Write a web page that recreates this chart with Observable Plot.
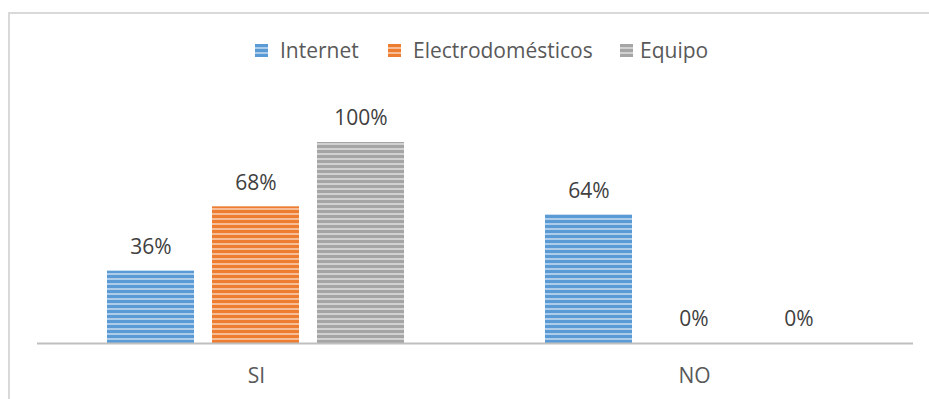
<!DOCTYPE html>
<html>
<head>
<meta charset="utf-8">
<script src="https://cdn.jsdelivr.net/npm/d3@7"></script>
<script src="https://cdn.jsdelivr.net/npm/@observablehq/plot@0.6"></script>
<style>
  html, body { margin: 0; padding: 0; background: #fff; }
  body { width: 929px; height: 399px; position: relative; overflow: hidden; font-family: "Open Sans", sans-serif; }
  #frame { position: absolute; left: 8px; top: 12px; width: 1000px; height: 500px; border-left: 2px solid #d9d9d9; border-top: 2px solid #d9d9d9; box-sizing: border-box; pointer-events: none; }
  #legend { height: 80px; position: relative; }
  .sw { position: absolute; top: 44px; }
  .lt { position: absolute; top: 38px; line-height: 24px; font-size: 21px; color: #595959; white-space: nowrap; }
  #chart { position: relative; }
</style>
</head>
<body>
<div id="frame"></div>
<div id="legend"></div>
<div id="chart"></div>
<script>
const categories = ["SI", "NO"];
const series = ["Internet", "Electrodomésticos", "Equipo"];
const internetValues = [0.36, 0.64];
const electroValues = [0.68, 0.00];
const equipoValues = [1.00, 0.00];
const colors = ["#5b9bd5", "#ed7d31", "#a5a5a5"];
const ids = ["p-internet", "p-electro", "p-equipo"];

const valuesBySeries = [internetValues, electroValues, equipoValues];
const data = [];
series.forEach((s, i) => categories.forEach((c, j) => data.push({category: c, series: s, value: valuesBySeries[i][j]})));

function patternDefs(prefix) {
  const defs = d3.create("svg:defs");
  colors.forEach((col, i) => {
    const p = defs.append("pattern").attr("id", prefix + ids[i]).attr("patternUnits", "userSpaceOnUse")
      .attr("width", 10).attr("height", 5);
    p.append("rect").attr("width", 10).attr("height", 5).attr("fill", col);
    p.append("rect").attr("y", 3.3).attr("width", 10).attr("height", 1.4).attr("fill", "#fff").attr("fill-opacity", 0.7);
  });
  return defs.node();
}

// legend
const legend = document.getElementById("legend");
const swatchX = [255, 388, 620];
const textX = [280, 413, 640];
series.forEach((s, i) => {
  const sw = d3.create("svg").attr("class", "sw").attr("width", 13).attr("height", 13).style("left", swatchX[i] + "px");
  sw.node().appendChild(patternDefs("lg" + i));
  sw.append("rect").attr("width", 13).attr("height", 13).attr("fill", `url(#lg${i}${ids[i]})`);
  legend.appendChild(sw.node());
  const span = document.createElement("div");
  span.className = "lt";
  span.style.left = textX[i] + "px";
  span.textContent = s;
  legend.appendChild(span);
});

const chart = Plot.plot({
  width: 929,
  height: 319,
  marginLeft: 37,
  marginRight: 16,
  marginTop: 62,
  marginBottom: 56,
  style: {fontFamily: "Open Sans, sans-serif", background: "transparent"},
  fx: {domain: categories, paddingInner: 0, paddingOuter: 0, label: null, axis: null},
  x: {domain: series, paddingInner: 0.167, paddingOuter: 0.669, axis: null},
  y: {domain: [0, 1], axis: null},
  color: {domain: series, range: ids.map(id => `url(#${id})`)},
  marks: [
    () => patternDefs(""),
    Plot.barY(data, {fx: "category", x: "series", y: "value", fill: "series"}),
    Plot.text(data, {fx: "category", x: "series", y: "value", text: d => Math.round(d.value * 100) + "%", dy: -24, fontSize: 21, fill: "#404040"}),
    Plot.ruleY([0], {stroke: "#bfbfbf", strokeWidth: 2}),
    Plot.text(categories, {fx: d => d, frameAnchor: "bottom", dy: 39, text: d => d, fontSize: 21, fill: "#595959"})
  ]
});
document.getElementById("chart").appendChild(chart);
</script>
</body>
</html>
